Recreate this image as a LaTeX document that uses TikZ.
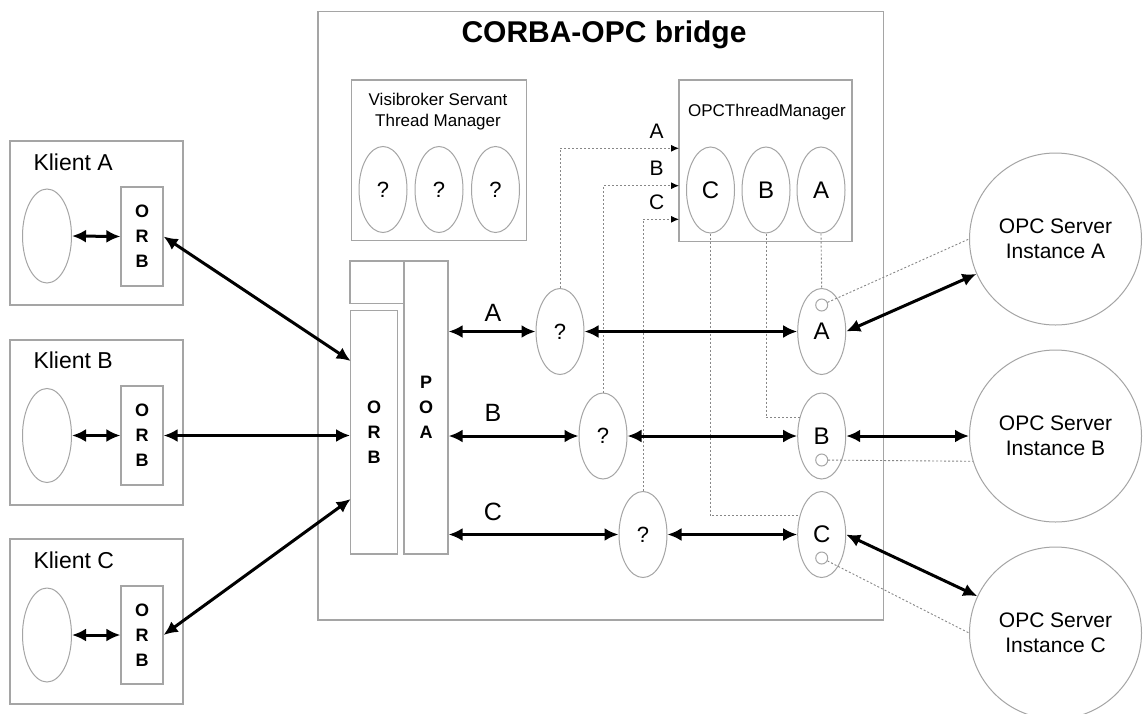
\documentclass[tikz,border=0pt]{standalone}
\usepackage{fontspec}
\setmainfont{Liberation Sans}
\usetikzlibrary{shapes.geometric,arrows.meta}
\definecolor{lg}{RGB}{165,165,165}
\definecolor{dg}{RGB}{135,135,135}
\tikzset{
  boxn/.style={draw=lg, line width=1.2pt, inner sep=0pt},
  elln/.style={ellipse, draw=lg, line width=1pt, inner sep=0pt, minimum width=48pt, minimum height=86pt},
  celln/.style={ellipse, draw=lg, line width=1pt, inner sep=0pt, minimum width=49pt, minimum height=94pt},
  srvn/.style={circle, draw=lg, line width=1pt, inner sep=0pt, minimum size=172pt, align=center,
    font=\fontsize{21}{25}\selectfont},
  smallc/.style={circle, draw=lg, line width=1pt, inner sep=0pt, minimum size=12pt},
  bigarrow/.style={line width=3pt, {Latex[length=14pt,width=13pt]}-{Latex[length=14pt,width=13pt]}},
  dotline/.style={draw=dg, line width=0.9pt, dash pattern=on 2pt off 2pt},
  dotarrow/.style={dotline, -{Latex[length=8pt,width=7pt,color=black]}},
  orbtxt/.style={align=center, inner sep=0pt, font=\bfseries\fontsize{18}{25}\selectfont},
  qtxt/.style={font=\fontsize{22}{26}\selectfont},
  lettxt/.style={font=\fontsize{24}{28}\selectfont},
  rowlab/.style={font=\fontsize{25}{28}\selectfont},
  smlab/.style={font=\fontsize{21}{24}\selectfont},
  mgrtxt/.style={align=center, font=\fontsize{17}{21}\selectfont},
  klab/.style={anchor=west, font=\fontsize{23}{27}\selectfont}
}
\begin{document}
\begin{tikzpicture}[x=1pt,y=-1pt]
\path[use as bounding box] (0,0) rectangle (1143,713);
\clip (0,0) rectangle (1143,713);
\fill[white] (0,0) rectangle (1143,713);

% ---------- Clients ----------
\node[boxn, minimum width=173pt, minimum height=164pt] (kA) at (96.5,223) {};
\node[boxn, minimum width=173pt, minimum height=165pt] (kB) at (96.5,422.5) {};
\node[boxn, minimum width=173pt, minimum height=165pt] (kC) at (96.5,621.5) {};
\node[klab] (kAlab) at (30,162) {Klient A};
\node[klab] (kBlab) at (30,360) {Klient B};
\node[klab] (kClab) at (30,560) {Klient C};
\node[celln] (eA) at (47,236) {};
\node[celln] (eB) at (47,435.5) {};
\node[celln] (eC) at (47,635) {};
\node[boxn, minimum width=42pt, minimum height=99pt] (orbA) at (142,236.5) {};
\node[boxn, minimum width=42pt, minimum height=99pt] (orbB) at (142,435.5) {};
\node[boxn, minimum width=42pt, minimum height=98pt] (orbC) at (142,635) {};
\node[orbtxt] (orbAt) at (142,236.5) {O\\R\\B};
\node[orbtxt] (orbBt) at (142,435.5) {O\\R\\B};
\node[orbtxt] (orbCt) at (142,635) {O\\R\\B};

% ---------- Bridge ----------
\node[boxn, minimum width=565.5pt, minimum height=608.3pt] (bridge) at (600.75,315.85) {};
\node[font=\bfseries\fontsize{30}{34}\selectfont] (title) at (604,35) {CORBA-OPC bridge};

\node[boxn, minimum width=175pt, minimum height=160.7pt] (visi) at (439.2,160.35) {};
\node[mgrtxt] (visit) at (438,112) {Visibroker Servant\\Thread Manager};
\node[elln, qtxt] (v1) at (383,189.5) {?};
\node[elln, qtxt] (v2) at (439,189.5) {?};
\node[elln, qtxt] (v3) at (495.5,189.5) {?};

\node[boxn, minimum width=173pt, minimum height=161.7pt] (opc) at (765.5,160.85) {};
\node[mgrtxt] (opct) at (767,111.7) {OPCThreadManager};
\node[elln, lettxt] (oC) at (710.5,190) {C};
\node[elln, lettxt] (oB) at (766,190) {B};
\node[elln, lettxt] (oA) at (821,190) {A};

\node[boxn, minimum width=54pt, minimum height=42.3pt] (small) at (377,282.15) {};
\node[boxn, minimum width=44pt, minimum height=293pt] (poa) at (426,407.5) {};
\node[boxn, minimum width=47pt, minimum height=243.3pt] (morb) at (374.2,432.35) {};
\node[orbtxt] (morbt) at (374.2,432) {O\\R\\B};
\node[orbtxt] (poat) at (426,407) {P\\O\\A};

\node[elln, qtxt] (qA) at (560,331.5) {?};
\node[elln, qtxt] (qB) at (603,436) {?};
\node[elln, qtxt] (qC) at (643,534.5) {?};
\node[elln, lettxt] (rA) at (821.7,331.5) {A};
\node[elln, lettxt] (rB) at (821.7,436) {B};
\node[elln, lettxt] (rC) at (821.7,534.5) {C};
\node[smallc] (sA) at (821.7,305) {};
\node[smallc] (sB) at (821.7,460) {};
\node[smallc] (sC) at (821.7,558) {};

\node[rowlab] (labA) at (493,313) {A};
\node[rowlab] (labB) at (493,413) {B};
\node[rowlab] (labC) at (493,512) {C};
\node[smlab] (dlabA) at (656.7,131.7) {A};
\node[smlab] (dlabB) at (656.7,168) {B};
\node[smlab] (dlabC) at (656.7,202.7) {C};

% ---------- Servers ----------
\node[srvn] (srvA) at (1055.5,239) {OPC Server\\Instance A};
\node[srvn] (srvB) at (1055.5,436) {OPC Server\\Instance B};
\node[srvn] (srvC) at (1055.5,633) {OPC Server\\Instance C};

% ---------- coordinates ----------
\coordinate (tA) at (679,148.3);
\coordinate (tB) at (679,185.7);
\coordinate (tC) at (679,219.3);
\coordinate (inA) at (350.7,361);
\coordinate (inC) at (350.7,499);

% ---------- dotted connectors ----------
\draw[dotarrow] (qA.north) |- (tA);
\draw[dotarrow] (qB.north) |- (tB);
\draw[dotarrow] (qC.north) |- (tC);
\draw[dotline] (oA.south) -- (rA.north);
\draw[dotline] (oB.south) |- (rB.140);
\draw[dotline] (oC.south) |- (rC.140);
\draw[dotline] (sA) -- (srvA.west);
\draw[dotline] (sB) -- (srvB.197);
\draw[dotline] (sC) -- (srvC.west);

% ---------- thick connectors ----------
\draw[bigarrow] (eA.east) -- (orbA.west);
\draw[bigarrow] (eB.east) -- (orbB.west);
\draw[bigarrow] (eC.east) -- (orbC.west);
\draw[bigarrow] (orbA.east) -- (inA);
\draw[bigarrow] (orbB.east) -- (orbB.east -| morb.west);
\draw[bigarrow] (orbC.east) -- (inC);
\draw[bigarrow] (qA.west -| poa.east) -- (qA.west);
\draw[bigarrow] (qB.west -| poa.east) -- (qB.west);
\draw[bigarrow] (qC.west -| poa.east) -- (qC.west);
\draw[bigarrow] (qA.east) -- (rA.west);
\draw[bigarrow] (qB.east) -- (rB.west);
\draw[bigarrow] (qC.east) -- (rC.west);
\draw[bigarrow] (rA.east) -- (srvA);
\draw[bigarrow] (rB.east) -- (srvB);
\draw[bigarrow] (rC.east) -- (srvC);
\end{tikzpicture}
\end{document}
